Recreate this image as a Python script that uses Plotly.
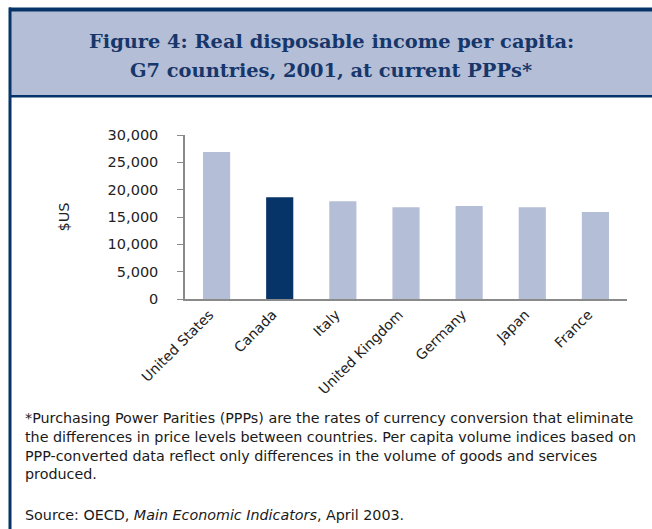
import plotly.graph_objects as go

# Real disposable income per capita, G7, 2001 (US$ at current PPPs)
countries = ["United States", "Canada", "Italy", "United Kingdom", "Germany", "Japan", "France"]
income = [26900, 18600, 17900, 16800, 17000, 16800, 15900]
highlight = "Canada"

LIGHT = "#B4BED6"
NAVY = "#063468"
SANS = "DejaVu Sans, Liberation Sans, Arial"

W, H = 652, 529
# plot area in pixels
L, R, T, B = 185, 627, 135, 299


def xp(px):
    return (px - L) / (R - L)


def yp(py):
    return (B - py) / (B - T)


bar_colors = [NAVY if c == highlight else LIGHT for c in countries]

fig = go.Figure(
    go.Bar(
        x=countries,
        y=income,
        marker=dict(color=bar_colors, line=dict(width=0)),
        hoverinfo="x+y",
    )
)

shapes = [
    # header band
    dict(type="rect", xref="paper", yref="paper",
         x0=xp(10), x1=xp(W + 2), y0=yp(96), y1=yp(10),
         fillcolor=LIGHT, line=dict(width=0), layer="below"),
    # top rule
    dict(type="rect", xref="paper", yref="paper",
         x0=xp(9), x1=xp(W + 2), y0=yp(11.5), y1=yp(7.5),
         fillcolor=NAVY, line=dict(width=0)),
    # left rule
    dict(type="rect", xref="paper", yref="paper",
         x0=xp(8.5), x1=xp(11.5), y0=yp(H + 2), y1=yp(7.5),
         fillcolor=NAVY, line=dict(width=0)),
    # header bottom rule
    dict(type="rect", xref="paper", yref="paper",
         x0=xp(9), x1=xp(W + 2), y0=yp(97.5), y1=yp(95),
         fillcolor=NAVY, line=dict(width=0)),
]

title_font = dict(family="DejaVu Serif", size=19.4, color="#17366A")
annotations = [
    dict(text="<b>Figure 4: Real disposable income per capita:</b>",
         x=xp(331), y=yp(42), xref="paper", yref="paper",
         xanchor="center", yanchor="middle", showarrow=False, font=title_font),
    dict(text="<b>G7 countries, 2001, at current PPPs*</b>",
         x=xp(331), y=yp(70), xref="paper", yref="paper",
         xanchor="center", yanchor="middle", showarrow=False, font=title_font),
]

note_font = dict(family=SANS, size=14.3, color="#1a1a1a")
note_lines = [
    ("*Purchasing Power Parities (PPPs) are the rates of currency conversion that eliminate", 418),
    ("the differences in price levels between countries. Per capita volume indices based on", 437),
    ("PPP-converted data reflect only differences in the volume of goods and services", 456),
    ("produced.", 474),
    ("Source: OECD, <i>Main Economic Indicators</i>, April 2003.", 515),
]
for txt, py in note_lines:
    annotations.append(dict(text=txt, x=xp(23), y=yp(py), xref="paper", yref="paper",
                            xanchor="left", yanchor="middle", showarrow=False,
                            font=note_font))

fig.update_layout(
    width=W, height=H,
    margin=dict(l=L, r=W - R, t=T, b=H - B, pad=0),
    paper_bgcolor="white", plot_bgcolor="white",
    bargap=0.57,
    showlegend=False,
    shapes=shapes,
    annotations=annotations,
    font=dict(family=SANS, size=14, color="#222222"),
    xaxis=dict(
        showline=True, linecolor="#8a8a8a", linewidth=2,
        ticks="", showgrid=False, tickangle=-45,
        ticklabelshift=-7,
        tickfont=dict(family=SANS, size=14, color="#222222"),
    ),
    yaxis=dict(
        range=[0, 30000], dtick=5000, tickformat=",",
        showline=True, linecolor="#8a8a8a", linewidth=1.5,
        ticks="outside", ticklen=6, tickcolor="#8a8a8a", tickwidth=1,
        showgrid=False, zeroline=False,
        tickfont=dict(family=SANS, size=14.5, color="#222222"),
        ticklabelstandoff=16,
        title=dict(text="$US", font=dict(family=SANS, size=14.5, color="#222222"), standoff=35),
    ),
)

fig.write_html("out.html")
